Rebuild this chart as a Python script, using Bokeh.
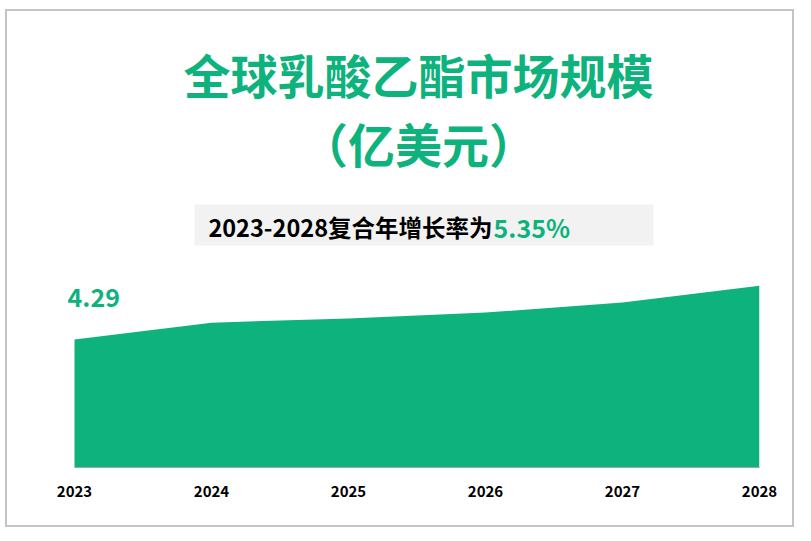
from bokeh.plotting import figure
from bokeh.models import ColumnDataSource, FixedTicker, Range1d
from bokeh.core.properties import value
from bokeh.embed import file_html
from bokeh.resources import INLINE

# ---- data ----
years = [2023, 2024, 2025, 2026, 2027, 2028]
market_size = [4.29, 4.69, 4.79, 4.93, 5.17, 5.57]
year_labels = ["2023", "2024", "2025", "2026", "2027", "2028"]
title_line1 = "全球乳酸乙酯市场规模"
title_line2 = "（亿美元）"
cagr_text = "2023-2028复合年增长率为"
cagr_value = "5.35%"

GREEN = "#0EB27C"
CJK = "Noto Sans CJK SC"

# canvas origin on page is (7, 11) because of margin + 2px border
OX, OY = 7, 11
W, H = 789, 518
X0_PAGE, BASE_PAGE, XN_PAGE = 74, 467, 759
step = (XN_PAGE - X0_PAGE) / (len(years) - 1)
frame_left = 0
RIGHT = W - (XN_PAGE - OX)
BOTTOM = H - (BASE_PAGE - OY)
frame_h = H - BOTTOM
y_start = 1.25
px_per_unit = 42.1
y_end = y_start + frame_h / px_per_unit
x_start = years[0] - (X0_PAGE - OX - frame_left) / step

p = figure(width=W, height=H, output_backend="svg", toolbar_location=None,
           x_range=Range1d(x_start, years[-1]), y_range=Range1d(y_start, y_end),
           min_border_left=frame_left, min_border_right=RIGHT, min_border_top=0,
           min_border_bottom=BOTTOM, background_fill_color="white",
           border_fill_color="white", outline_line_color=None)
p.styles = {"border": "2px solid #c4c4c4", "margin-left": "5px", "margin-top": "9px"}

src = ColumnDataSource(dict(x=years, y=market_size, base=[0] * len(years)))
p.varea(x="x", y1="base", y2="y", source=src, fill_color=GREEN)

# helpers converting page pixel positions (for texts only) to data coords
def dy(page_y):
    return y_start + (BASE_PAGE - page_y) / px_per_unit

def dx(page_x):
    return years[0] + (page_x - X0_PAGE) / step

# title
p.text(x=[dx(418)], y=[dy(73)], text=[title_line1], text_color=GREEN,
       text_font=value(CJK), text_font_size="47px", text_font_style="bold",
       text_align="center", text_baseline="middle")
p.text(x=[dx(418)], y=[dy(142)], text=[title_line2], text_color=GREEN,
       text_font=value(CJK), text_font_size="47px", text_font_style="bold",
       text_align="center", text_baseline="middle")

# subtitle box
p.quad(left=[dx(194)], right=[dx(653)], bottom=[dy(245)], top=[dy(204)],
       fill_color="#F2F2F2", line_color=None)
p.text(x=[dx(492)], y=[dy(226)], text=[cagr_text], text_color="#000000",
       text_font=value(CJK), text_font_size="23.5px", text_font_style="bold",
       text_align="right", text_baseline="middle")
p.text(x=[dx(493)], y=[dy(226)], text=[cagr_value], text_color=GREEN,
       text_font=value(CJK), text_font_size="25px", text_font_style="bold",
       text_align="left", text_baseline="middle")

# first value label
p.text(x=[years[0]], y=[market_size[0]], text=[f"{market_size[0]:.2f}"],
       text_color=GREEN, text_font=value(CJK), text_font_size="25px",
       text_font_style="bold", text_align="left", text_baseline="middle",
       x_offset=-7, y_offset=-42)

p.yaxis.visible = False
p.xgrid.visible = False
p.ygrid.visible = False
ax = p.xaxis[0]
ax.ticker = FixedTicker(ticks=years)
ax.bounds = (years[0], years[-1])
ax.major_label_overrides = {y: l for y, l in zip(years, year_labels)}
ax.major_tick_line_color = None
ax.minor_tick_line_color = None
ax.axis_line_color = "#A6A6A6"
ax.axis_line_width = 1
ax.major_label_text_font = CJK
ax.major_label_text_font_size = "15px"
ax.major_label_text_font_style = "bold"
ax.major_label_text_color = "#000000"
ax.major_label_standoff = 12

open("out.html", "w").write(file_html(p, INLINE))
